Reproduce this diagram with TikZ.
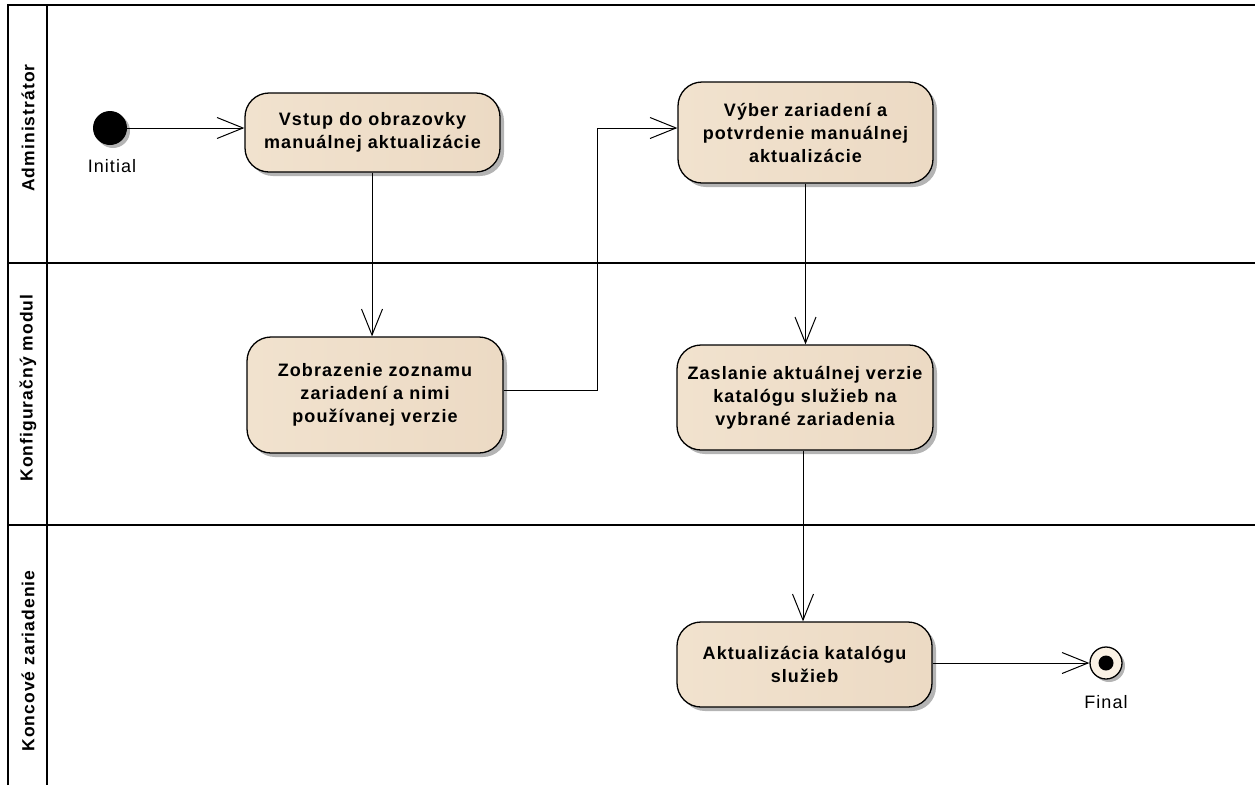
\documentclass[tikz,border=0pt]{standalone}
\usepackage{fontspec}
\setmainfont[LetterSpace=6]{Liberation Sans}
\usetikzlibrary{arrows.meta,shadows}
\definecolor{fillL}{HTML}{F1E2CE}
\definecolor{fillM}{HTML}{FAF1E4}
\definecolor{fillR}{HTML}{ECDAC4}
\definecolor{shadowgray}{HTML}{B4B4B4}
\begin{document}
\begin{tikzpicture}[x=1pt,y=-1pt,
  act/.style={draw=black, line width=1.3pt, rounded corners=24pt,
    left color=fillL, middle color=fillM, right color=fillR, shading angle=90,
    align=center, inner sep=2pt,
    font=\fontsize{18}{23}\selectfont\bfseries,
    drop shadow={shadow xshift=4pt, shadow yshift=-4pt, fill=shadowgray, opacity=1}},
  flow/.style={draw=black, line width=1pt, -{Straight Barb[length=26pt,width=21pt,line width=1pt]}},
  lane/.style={line width=1.8pt},
  lanelabel/.style={rotate=90, font=\fontsize{17.5}{19}\selectfont\bfseries},
  caption/.style={font=\fontsize{18}{20}\selectfont}]
\useasboundingbox (0,0) rectangle (1255,785);

% swimlanes
\draw[lane] (8,785) -- (8,5) -- (1255,5);
\draw[lane] (47,5) -- (47,785);
\draw[lane] (8,263) -- (1255,263);
\draw[lane] (8,525) -- (1255,525);
\node[lanelabel] (l1) at (28,128) {Administrátor};
\node[lanelabel] (l2) at (28,388) {Konfiguračný modul};
\node[lanelabel] (l3) at (28,661) {Koncové zariadenie};

% activities
\node[act, minimum width=255pt, minimum height=79pt] (n1) at (372.5,132.5)
  {Vstup do obrazovky\\manuálnej aktualizácie};
\node[act, minimum width=255pt, minimum height=101pt] (n2) at (805.5,132.5)
  {Výber zariadení a\\potvrdenie manuálnej\\aktualizácie};
\node[act, minimum width=256pt, minimum height=116pt] (n3) at (375,395)
  {Zobrazenie zoznamu\\zariadení a nimi\\používanej verzie};
\node[act, minimum width=256pt, minimum height=105pt] (n4) at (805,397.5)
  {Zaslanie aktuálnej verzie\\katalógu služieb na\\vybrané zariadenia};
\node[act, minimum width=255pt, minimum height=85pt] (n5) at (804.5,664.5)
  {Aktualizácia katalógu\\služieb};

% initial / final
\node[circle, fill=black, minimum size=34pt, inner sep=0pt,
  drop shadow={shadow xshift=3pt, shadow yshift=-3pt, fill=shadowgray, opacity=1}] (init) at (110,128) {};
\node[caption] (initl) at (112,166) {Initial};
\node[circle, draw=black, line width=1.3pt, fill=fillM, minimum size=32pt, inner sep=0pt,
  drop shadow={shadow xshift=3pt, shadow yshift=-3pt, fill=shadowgray, opacity=1}] (fin) at (1106,663) {};
\node[circle, fill=black, minimum size=15pt, inner sep=0pt] (fini) at (fin.center) {};
\node[caption] (finl) at (1106,702) {Final};

% flows
\coordinate (b1) at (597,390);
\coordinate (b2) at (597,128);
\draw[flow] (init) -- (n1.west |- init);
\draw[flow] (n1.south -| 372,0) -- (372,0 |- n3.north);
\draw[flow] (n3.east |- b1) -- (b1) -- (b2) -- (n2.west |- b2);
\draw[flow] (n2.south) -- (n2.south |- n4.north);
\draw[flow] (n4.south -| 803,0) -- (803,0 |- n5.north);
\draw[flow] (n5.east |- fin) -- (fin.west);
\end{tikzpicture}
\end{document}
